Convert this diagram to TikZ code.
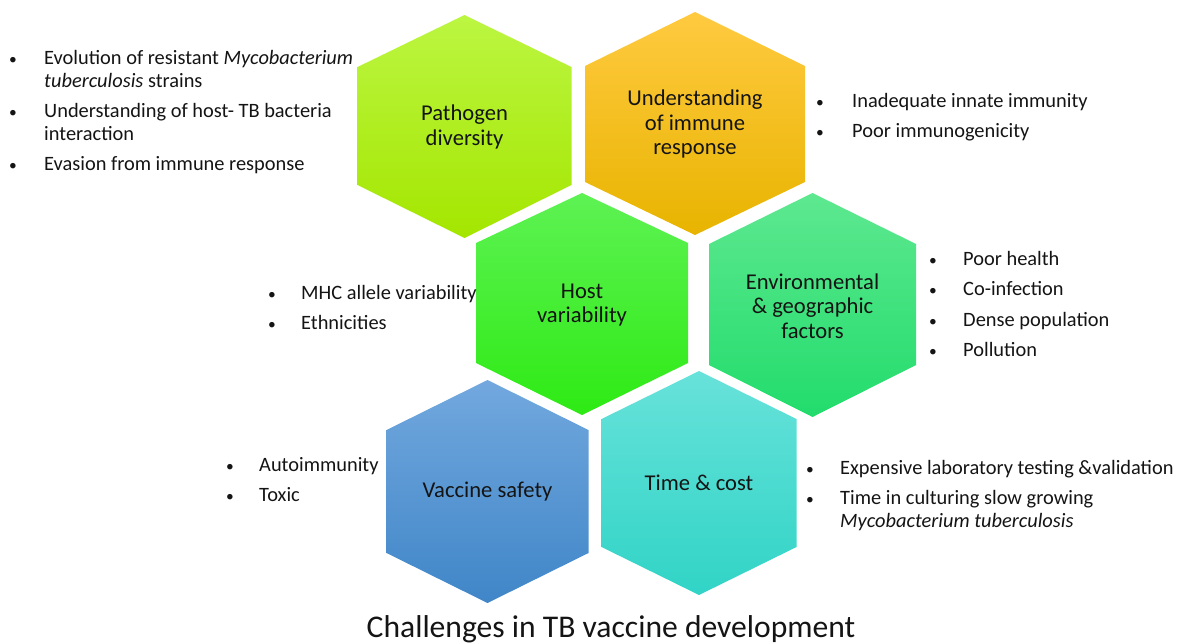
\documentclass[tikz,border=0pt]{standalone}
\usepackage{fontspec}
\setmainfont{Carlito}
\definecolor{pathTop}{RGB}{188,246,66}
\definecolor{pathBot}{RGB}{164,230,0}
\definecolor{immTop}{RGB}{255,202,64}
\definecolor{immBot}{RGB}{232,180,0}
\definecolor{hostTop}{RGB}{94,242,84}
\definecolor{hostBot}{RGB}{46,234,20}
\definecolor{envTop}{RGB}{94,232,144}
\definecolor{envBot}{RGB}{34,220,108}
\definecolor{safeTop}{RGB}{114,168,222}
\definecolor{safeBot}{RGB}{64,134,200}
\definecolor{timeTop}{RGB}{104,226,218}
\definecolor{timeBot}{RGB}{48,212,198}
\definecolor{ink}{RGB}{20,20,20}
\begin{document}
\begin{tikzpicture}[x=1pt,y=-1pt,
  hexlabel/.style={font=\fontsize{22.6}{24.6}\selectfont, align=center, text=ink, inner sep=0pt},
  itemtext/.style={font=\fontsize{20.4}{23}\selectfont, anchor=base west, inner sep=0pt, text=ink},
  bulletdot/.style={font=\fontsize{15.5}{18}\selectfont, anchor=base, inner sep=0pt, text=ink},
  titletext/.style={font=\fontsize{31.6}{36}\selectfont, anchor=base, inner sep=0pt, text=ink},
]
\useasboundingbox (0,0) rectangle (1184,643);

% pointy-top hexagon: centre x, half width, top, upper side, lower side, bottom, shading
\newcommand\hexcell[7]{%
  \shade[#7] (#1,#3) -- (#1+#2,#4) -- (#1+#2,#5) -- (#1,#6)
    -- (#1-#2,#5) -- (#1-#2,#4) -- cycle;}

\hexcell{464.5}{107}{15}{67}{185}{238}{top color=pathTop, bottom color=pathBot}
\hexcell{695}{110}{12}{66}{182}{235}{top color=immTop, bottom color=immBot}
\hexcell{582}{106}{193}{243}{363}{415}{top color=hostTop, bottom color=hostBot}
\hexcell{812.5}{103.5}{193}{244}{365}{417}{top color=envTop, bottom color=envBot}
\hexcell{487.5}{101}{380}{430}{553}{603}{top color=safeTop, bottom color=safeBot}
\hexcell{699}{97.5}{371}{419}{547}{595}{top color=timeTop, bottom color=timeBot}

% hexagon labels
\node[hexlabel] (pathogen) at (464.5,127) {Pathogen\\diversity};
\node[hexlabel] (immune) at (695,124) {Understanding\\of immune\\response};
\node[hexlabel] (host) at (582,305) {Host\\variability};
\node[hexlabel] (env) at (812.5,306) {Environmental\\\& geographic\\factors};
\node[hexlabel] (safety) at (487.5,492) {Vaccine safety};
\node[hexlabel] (timecost) at (699,483) {Time \& cost};

% pathogen diversity items
\node[bulletdot] (b1a) at (13,64) {•};
\node[itemtext] (t1a) at (44,64) {Evolution of resistant \textit{Mycobacterium}};
\node[itemtext] (t1a2) at (44,87) {\textit{tuberculosis} strains};
\node[bulletdot] (b1b) at (13,117) {•};
\node[itemtext] (t1b) at (44,117) {Understanding of host- TB bacteria};
\node[itemtext] (t1b2) at (44,140) {interaction};
\node[bulletdot] (b1c) at (13,170) {•};
\node[itemtext] (t1c) at (44,170) {Evasion from immune response};

% immune response items
\node[bulletdot] (b2a) at (820,107) {•};
\node[itemtext] (t2a) at (852,107) {Inadequate innate immunity};
\node[bulletdot] (b2b) at (820,137) {•};
\node[itemtext] (t2b) at (852,137) {Poor immunogenicity};

% host variability items
\node[bulletdot] (b3a) at (272,299) {•};
\node[itemtext] (t3a) at (301,299) {MHC allele variability};
\node[bulletdot] (b3b) at (272,329) {•};
\node[itemtext] (t3b) at (301,329) {Ethnicities};

% environmental items
\node[bulletdot] (b4a) at (933,265) {•};
\node[itemtext] (t4a) at (963,265) {Poor health};
\node[bulletdot] (b4b) at (933,295) {•};
\node[itemtext] (t4b) at (963,295) {Co-infection};
\node[bulletdot] (b4c) at (933,326) {•};
\node[itemtext] (t4c) at (963,326) {Dense population};
\node[bulletdot] (b4d) at (933,356) {•};
\node[itemtext] (t4d) at (963,356) {Pollution};

% vaccine safety items
\node[bulletdot] (b5a) at (230,471) {•};
\node[itemtext] (t5a) at (259,471) {Autoimmunity};
\node[bulletdot] (b5b) at (230,501) {•};
\node[itemtext] (t5b) at (259,501) {Toxic};

% time and cost items
\node[bulletdot] (b6a) at (810,474) {•};
\node[itemtext] (t6a) at (840,474) {Expensive laboratory testing \&validation};
\node[bulletdot] (b6b) at (810,504) {•};
\node[itemtext] (t6b) at (840,504) {Time in culturing slow growing};
\node[itemtext] (t6b2) at (840,527) {\textit{Mycobacterium tuberculosis}};

% caption
\node[titletext] (title) at (611,637) {Challenges in TB vaccine development};
\end{tikzpicture}
\end{document}
